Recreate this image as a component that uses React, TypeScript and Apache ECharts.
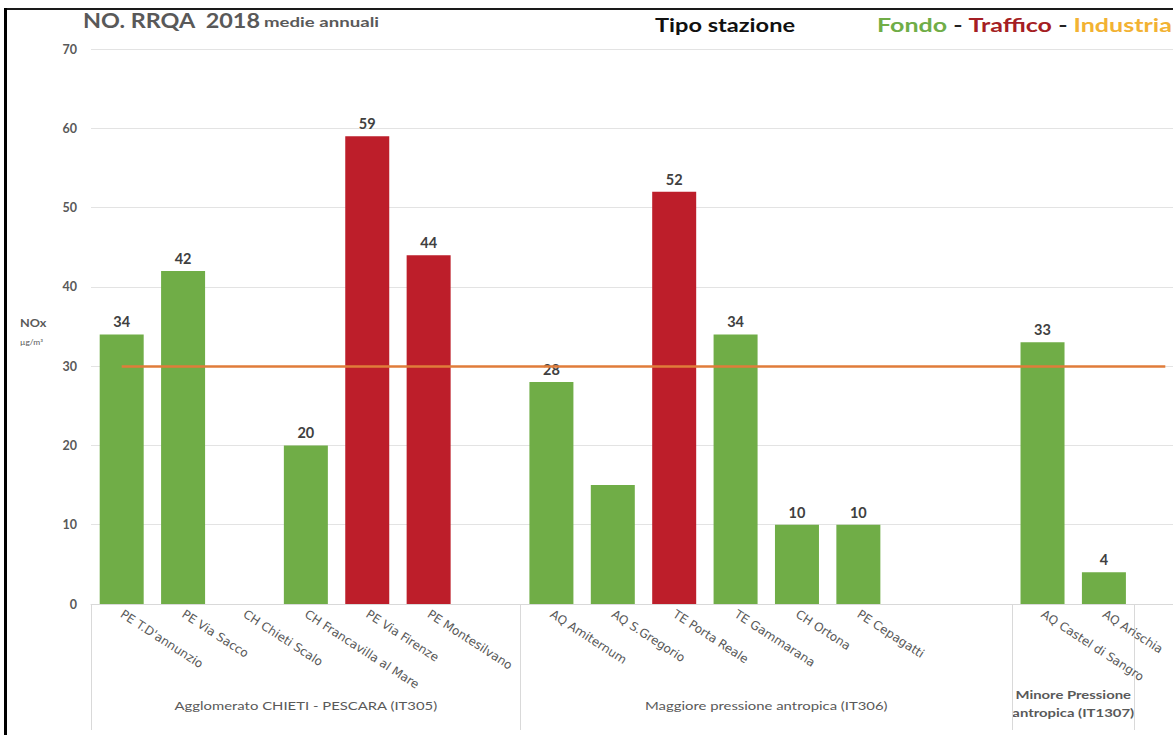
import React, { useEffect, useRef } from "react";
import * as echarts from "echarts";

// ---- data ----
const stations = [
  "PE T.D'annunzio", "PE Via Sacco", "CH Chieti Scalo", "CH Francavilla al Mare",
  "PE Via Firenze", "PE Montesilvano", " ",
  "AQ Amiternum", "AQ S.Gregorio", "TE Porta Reale", "TE Gammarana", "CH Ortona",
  "PE Cepagatti", "  ", "   ",
  "AQ Castel di Sangro", "AQ Arischia", "    ",
];
const values: (number | null)[] = [
  34, 42, null, 20, 59, 44, null,
  28, 15, 52, 34, 10, 10, null, null,
  33, 4, null,
];
// F = Fondo, T = Traffico, I = Industria
const types = ["F", "F", "F", "F", "T", "T", "", "F", "F", "T", "F", "F", "F", "", "", "F", "F", ""];
const unlabeled = ["AQ S.Gregorio"];
const groupNames = [
  "Agglomerato CHIETI - PESCARA (IT305)",
  "Maggiore pressione antropica (IT306)",
  "Minore Pressione\nantropica (IT1307)",
];
const groupSizes = [7, 8, 2];
const threshold = 30;
const yMin = 0;
const yMax = 70;
const yStep = 10;

const typeColors: Record<string, string> = { F: "#70AD47", T: "#BD1E2A", I: "#F2B233" };
const FONT = "Lato";

export default function App() {
  const ref = useRef<HTMLDivElement>(null);
  useEffect(() => {
    if (!ref.current) return;
    const chart = echarts.init(ref.current, undefined, { renderer: "svg" });
    const option: any = {
      animation: false,
      textStyle: { fontFamily: FONT },
      grid: { left: 91, top: 49, height: 555, width: 1105, containLabel: false },
      xAxis: {
        type: "category",
        data: stations,
        axisLine: { show: true, lineStyle: { color: "#D9D9D9", width: 1 } },
        axisTick: {
          show: true,
          length: 126,
          lineStyle: { color: "#D9D9D9", width: 1 },
          interval: (idx: number) => {
            const bounds = [0];
            let acc = 0;
            groupSizes.forEach((s) => { acc += s; bounds.push(acc); });
            return bounds.indexOf(idx) >= 0;
          },
        },
        axisLabel: {
          interval: 0,
          rotate: -33,
          margin: 9,
          color: "#595959",
          fontSize: 12,
          fontFamily: "DejaVu Sans",
          formatter: (v: string) => v.trim(),
        },
      },
      yAxis: {
        type: "value",
        min: yMin,
        max: yMax,
        interval: yStep,
        axisLine: { show: false },
        axisTick: { show: false },
        splitLine: { lineStyle: { color: "#E3E3E3", width: 1 } },
        axisLabel: { color: "#595959", fontSize: 12.5, fontWeight: "bold", margin: 14, fontFamily: FONT },
      },
      series: [
        {
          type: "bar",
          barWidth: 44,
          data: values.map((v, i) => ({
            value: v,
            itemStyle: { color: typeColors[types[i]] || "#70AD47" },
            label: { show: v != null && unlabeled.indexOf(stations[i]) < 0 },
          })),
          label: {
            show: true,
            position: "top",
            distance: 5,
            color: "#404040",
            fontSize: 14.5,
            fontWeight: "bold",
            fontFamily: FONT,
          },
          markLine: {
            silent: true,
            symbol: "none",
            label: { show: false },
            lineStyle: { color: "#E07C3A", width: 2.5, type: "solid" },
            data: [[
              { coord: [stations[0], threshold] },
              { coord: [stations[stations.length - 1], threshold] },
            ]],
          },
        },
      ],
    };
    chart.setOption(option);

    // group labels under the axis, placed through the category scale
    const groupTexts: any[] = [];
    let start = 0;
    groupSizes.forEach((s, gi) => {
      const first = chart.convertToPixel({ xAxisIndex: 0 }, stations[start]) as number;
      const last = chart.convertToPixel({ xAxisIndex: 0 }, stations[start + s - 1]) as number;
      const cx = (first + last) / 2;
      const multi = groupNames[gi].indexOf("\n") >= 0;
      groupTexts.push({
        type: "text",
        x: cx,
        y: multi ? 704 : 706,
        scaleX: 1.24,
        style: {
          text: groupNames[gi],
          fill: "#595959",
          font: `${multi ? "bold 12px" : "12px"} ${FONT}`,
          textAlign: "center",
          textVerticalAlign: "middle",
          lineHeight: 18,
        },
      });
      start += s;
    });

    chart.setOption({
      graphic: [
        { type: "rect", shape: { x: 4, y: 8, width: 1196, height: 2 }, style: { fill: "#1a1a1a" } },
        { type: "rect", shape: { x: 4, y: 8, width: 3, height: 727 }, style: { fill: "#000" } },
        {
          type: "text", x: 83, y: 21, scaleX: 1.17,
          style: { text: "NO. RRQA  2018", fill: "#595959", font: `bold 20px ${FONT}`, textVerticalAlign: "middle" },
        },
        {
          type: "text", x: 264, y: 22, scaleX: 1.33,
          style: { text: "medie annuali", fill: "#595959", font: `bold 14px ${FONT}`, textVerticalAlign: "middle" },
        },
        {
          type: "text", x: 655, y: 25, scaleX: 1.31,
          style: { text: "Tipo stazione", fill: "#111", font: `bold 18px ${FONT}`, textVerticalAlign: "middle" },
        },
        {
          type: "text", x: 877, y: 25, scaleX: 1.39,
          style: {
            text: "{g|Fondo}{d| - }{r|Traffico}{d| - }{y|Industria}",
            textVerticalAlign: "middle",
            font: `bold 18px ${FONT}`,
            rich: {
              g: { fill: "#70AD47", font: `bold 18px ${FONT}` },
              d: { fill: "#222", font: `bold 18px ${FONT}` },
              r: { fill: "#A51E24", font: `bold 18px ${FONT}` },
              y: { fill: "#F2B233", font: `bold 18px ${FONT}` },
            },
          },
        },
        {
          type: "text", x: 20, y: 323, scaleX: 1.15,
          style: { text: "NOx", fill: "#595959", font: `bold 11px ${FONT}`, textVerticalAlign: "middle" },
        },
        {
          type: "text", x: 20, y: 342, scaleX: 1.2,
          style: { text: "µg/m³", fill: "#595959", font: `7px ${FONT}`, textVerticalAlign: "middle" },
        },
        ...groupTexts,
      ],
    });
    return () => chart.dispose();
  }, []);
  return (
    <div style={{ position: "absolute", left: 0, top: 0, width: 1173, height: 735, overflow: "hidden", background: "#fff" }}>
      <div ref={ref} style={{ width: 1200, height: 735 }} />
    </div>
  );
}
